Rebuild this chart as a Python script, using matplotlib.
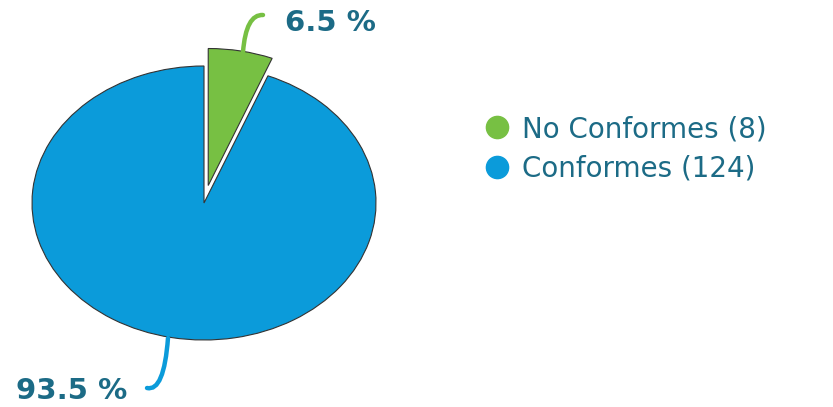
import matplotlib.pyplot as plt
from matplotlib.path import Path
from matplotlib.patches import PathPatch
from matplotlib.lines import Line2D

categorias = ["No Conformes", "Conformes"]
valores = [8, 124]
porcentajes = ["6.5 %", "93.5 %"]
colores = ["#77C043", "#0B9BDA"]
color_texto = "#1C6B86"

W, H = 833, 407
fig = plt.figure(figsize=(W / 100, H / 100), dpi=100)

# eje del pie: escalado distinto en x e y para el efecto eliptico
cx, cy, rx, ry = 204, 203, 172, 137
xl, yl = 1.18, 1.5
ax = fig.add_axes([(cx - xl * rx) / W, (H - cy - yl * ry) / H,
                   2 * xl * rx / W, 2 * yl * ry / H])
wedges, _ = ax.pie(valores, colors=colores, startangle=90, counterclock=False,
                   explode=[0.13, 0], radius=1,
                   wedgeprops=dict(edgecolor="#333333", linewidth=0.8))
for w in wedges:
    w.set_clip_on(False)
ax.set_aspect("auto")
ax.set_xlim(-xl, xl)
ax.set_ylim(-yl, yl)
ax.axis("off")


def d(px, py):
    return ((px - cx) / rx, (cy - py) / ry)


# lineas guia
for pts, col in [([(243, 52), (246, 14), (263, 15)], colores[0]),
                 ([(168, 338), (164, 392), (147, 388)], colores[1])]:
    path = Path([d(*p) for p in pts], [Path.MOVETO, Path.CURVE3, Path.CURVE3])
    ax.add_patch(PathPatch(path, facecolor="none", edgecolor=col, lw=3.2,
                           capstyle="round", clip_on=False))

ax.text(*d(330, 23), porcentajes[0], ha="center", va="center",
        fontsize=21, fontweight="bold", color=color_texto, clip_on=False)
ax.text(*d(72, 391), porcentajes[1], ha="center", va="center",
        fontsize=21, fontweight="bold", color=color_texto, clip_on=False)

handles = [Line2D([], [], marker="o", linestyle="none", markersize=16,
                  markerfacecolor=c, markeredgecolor=c) for c in colores]
labels = [f"{c} ({v})" for c, v in zip(categorias, valores)]
leg = fig.legend(handles, labels, loc="upper left",
                 bbox_to_anchor=(473 / W, (H - 104) / H), frameon=False,
                 fontsize=20, handletextpad=0.47, labelspacing=0.42,
                 handlelength=0.9, borderaxespad=0)
for t in leg.get_texts():
    t.set_color(color_texto)

fig.savefig("out.png", dpi=100)
